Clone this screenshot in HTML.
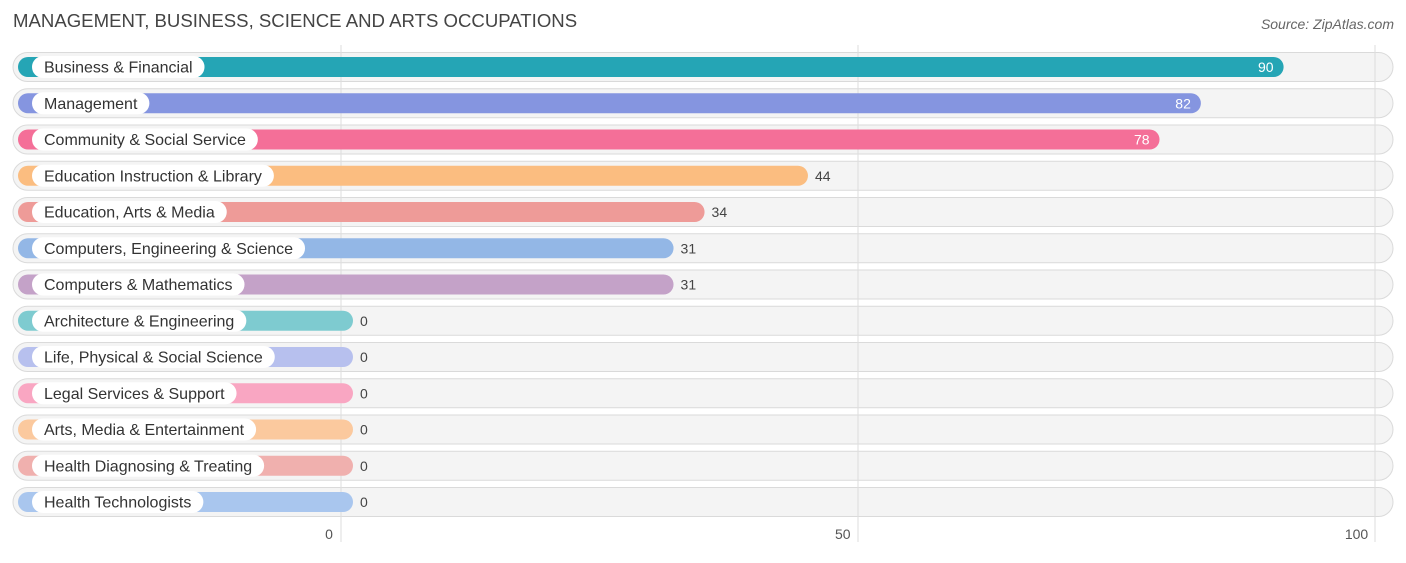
<!DOCTYPE html>
<html><head><meta charset="utf-8"><style>
body{margin:0;background:#fff;width:1406px;height:558px;overflow:hidden;font-family:"Liberation Sans",sans-serif}
</style></head><body>
<svg id="chart" width="1406" height="558" xmlns="http://www.w3.org/2000/svg">
<text x="13" y="27" font-size="18.6" fill="#444">MANAGEMENT, BUSINESS, SCIENCE AND ARTS OCCUPATIONS</text>
<text x="1394" y="29" font-size="14" fill="#666" font-style="italic" text-anchor="end">Source: ZipAtlas.com</text>
<g id="bgs"></g><g id="grid"></g><g id="rows"></g><g id="ticks"></g>
</svg>
<script>
const categories=["Business & Financial","Management","Community & Social Service","Education Instruction & Library","Education, Arts & Media","Computers, Engineering & Science","Computers & Mathematics","Architecture & Engineering","Life, Physical & Social Science","Legal Services & Support","Arts, Media & Entertainment","Health Diagnosing & Treating","Health Technologists"];
const values=[90,82,78,44,34,31,31,0,0,0,0,0,0];
const colors=["#25a5b5","#8595e0","#f46f98","#fbbd80","#ee9b98","#93b7e6","#c4a2c8","#7ecbd0","#b7c0ee","#f9a6c2","#fbc99e","#f0b0ae","#a9c6ee"];
const tickValues=[0,50,100];
const NS="http://www.w3.org/2000/svg";
const x=v=>341+v*10.34;
const rowY=i=>67+i*36.25;
function mk(t,a,p){const e=document.createElementNS(NS,t);for(const k in a)e.setAttribute(k,a[k]);p.appendChild(e);return e;}
const bgs=document.getElementById('bgs'),grid=document.getElementById('grid'),rows=document.getElementById('rows'),ticks=document.getElementById('ticks');
tickValues.forEach(t=>{
 const l=mk('line',{x1:x(t),x2:x(t),y1:45,y2:542,stroke:'#ddd','stroke-width':1},grid);
 
 
 const tx=mk('text',{x:x(t)-12-t*0.065,y:539,'font-size':14,fill:'#555','text-anchor':'middle'},ticks);
 tx.textContent=t;
 
 
});
categories.forEach((c,i)=>{
 const cy=rowY(i);
 const bg=mk('rect',{x:13,y:cy-14.5,width:1380,height:29,rx:14.5,fill:'#f4f4f4',stroke:'#dadada','stroke-width':1},bgs);
 
 
 const g=mk('g',{},rows);
 
 
 const end=x(values[i])+12;
 const b=mk('rect',{x:18,y:cy-10,width:end-18,height:20,rx:10,fill:colors[i]},g);
 
 
 const lbl=mk('text',{x:44,y:cy+5.5,'font-size':16,fill:'#333'},g);
 lbl.textContent=c;
 const w=lbl.getComputedTextLength();
 const pill=mk('rect',{x:32,y:cy-11,width:w+24,height:22,rx:11,fill:'#fff'},g);
 
 
 g.insertBefore(pill,lbl);
 
 
 const inside=values[i]>60;
 const vt=mk('text',{x:inside?end-10:end+7,y:cy+5,'font-size':14,fill:inside?'#fff':'#444','text-anchor':inside?'end':'start'},g);
 vt.textContent=values[i];
 
 
});
</script>
</body></html>
